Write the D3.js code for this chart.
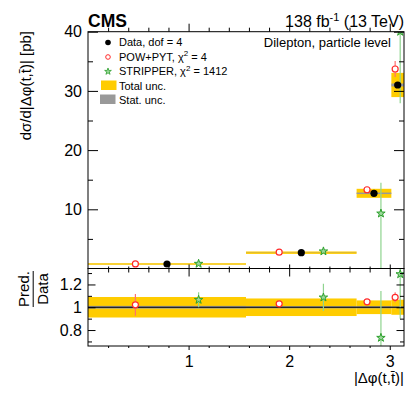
<!DOCTYPE html>
<html><head><meta charset="utf-8">
<script src="https://cdn.jsdelivr.net/npm/d3@7"></script>
<style>
html,body{margin:0;padding:0;background:#fff;}
text{font-family:"Liberation Sans",Arial,sans-serif;fill:#000;}
</style></head>
<body><svg id="c" width="407" height="394"></svg>
<script>
// ---- data ----
const binEdges = [0, 1.5708, 2.6704, 3.0159, 3.1416];
const dataVals = [0.76, 2.67, 12.7, 31.0];
const totUnc = [0.09, 0.077, 0.06, 0.066];      // relative
const statUnc = [0.012, 0.01, 0.01, 0.008];     // relative
const powVals = [0.776, 2.75, 13.3, 33.7];
const powErr = [0.072, 0.055, 0.13, 1.35];
const stripVals = [0.81, 2.9, 9.3, 40.0];
const stripErrUp = [0.05, 0.32, 5.2, 12.0];
const stripErrDn = [0.05, 0.32, 9.3, 12.1];
const yMainTicks = [10, 20, 30, 40];
const yMainMinor = [5, 15, 25, 35];
const yRatioTicks = [0.8, 1, 1.2];
const yRatioMinor = [0.7, 0.9, 1.1, 1.3];
const xTicks = [1, 2, 3];
const legendLabels = ["Data, dof = 4", "POW+PYT, \u03c7", "STRIPPER, \u03c7", "Total unc.", "Stat. unc."];

// ---- layout ----
const L = 88, R = 404, mTop = 31.7, mBot = 268.5, rTop = 268.5, rBot = 346;
const svg = d3.select("#c");
const x = d3.scaleLinear().domain([0, Math.PI]).range([L, R]);
const y = d3.scaleLinear().domain([0, 40]).range([mBot, mTop]);
const yr = d3.scaleLinear().domain([0.66, 1.34]).range([rBot, rTop]);
const YEL = "#ffcc00", GRY = "#999999", RED = "#ff2a2a", GRN = "#2ca02c";

svg.append("clipPath").attr("id","cm").append("rect").attr("x",L).attr("y",mTop).attr("width",R-L).attr("height",mBot-mTop);
svg.append("clipPath").attr("id","cr").append("rect").attr("x",L).attr("y",rTop).attr("width",R-L).attr("height",rBot-rTop);
const gm = svg.append("g").attr("clip-path","url(#cm)");
const gr = svg.append("g").attr("clip-path","url(#cr)");

const bins = dataVals.map((v,i)=>({i, lo:binEdges[i], hi:binEdges[i+1], c:(binEdges[i]+binEdges[i+1])/2, w:binEdges[i+1]-binEdges[i], v}));

function band(g, ys, rel, col, minH, ratio){
  g.selectAll(null).data(bins).enter().append("rect")
    .attr("x", d=>x(d.lo)).attr("width", d=>x(d.hi)-x(d.lo))
    .attr("y", d=>{ const c = ratio?1:d.v; const e = ratio?rel[d.i]:d.v*rel[d.i];
        const h = Math.max(ys(c-e)-ys(c+e), minH); return (ys(c-e)+ys(c+e))/2 - h/2; })
    .attr("height", d=>{ const c = ratio?1:d.v; const e = ratio?rel[d.i]:d.v*rel[d.i];
        return Math.max(ys(c-e)-ys(c+e), minH); })
    .attr("fill", col);
}
// main bands
band(gm, y, totUnc, YEL, 1.6, false);
band(gm, y, statUnc, GRY, 0, false);
// ratio bands
band(gr, yr, totUnc, YEL, 1, true);
band(gr, yr, statUnc, GRY, 1, true);
gr.append("line").attr("x1",L).attr("x2",R).attr("y1",yr(1)).attr("y2",yr(1)).attr("stroke","#000").attr("stroke-width",1);

// error bars + markers
const star = d3.symbol().type(d3.symbolStar).size(22);
function drawPreds(g, ys, ratio){
  g.selectAll(null).data(bins).enter().append("line")
    .attr("x1", d=>x(d.c-0.2*d.w)).attr("x2", d=>x(d.c-0.2*d.w))
    .attr("y1", d=>ys(ratio ? (powVals[d.i]+powErr[d.i])/d.v : powVals[d.i]+powErr[d.i]))
    .attr("y2", d=>ys(ratio ? (powVals[d.i]-powErr[d.i])/d.v : powVals[d.i]-powErr[d.i]))
    .attr("stroke","#ff7070").attr("stroke-width",1.2);
  g.selectAll(null).data(bins).enter().append("line")
    .attr("x1", d=>x(d.c+0.2*d.w)).attr("x2", d=>x(d.c+0.2*d.w))
    .attr("y1", d=>ys(ratio ? (stripVals[d.i]+stripErrUp[d.i])/d.v : stripVals[d.i]+stripErrUp[d.i]))
    .attr("y2", d=>ys(ratio ? (stripVals[d.i]-stripErrDn[d.i])/d.v : stripVals[d.i]-stripErrDn[d.i]))
    .attr("stroke","#8fd48f").attr("stroke-width",1.2);
  g.selectAll(null).data(bins).enter().append("circle")
    .attr("cx", d=>x(d.c-0.2*d.w)).attr("cy", d=>ys(ratio ? powVals[d.i]/d.v : powVals[d.i]))
    .attr("r",3).attr("fill","#fff").attr("stroke",RED).attr("stroke-width",1.2);
  g.selectAll(null).data(bins).enter().append("path")
    .attr("d", star)
    .attr("transform", d=>`translate(${x(d.c+0.2*d.w)},${ys(ratio ? stripVals[d.i]/d.v : stripVals[d.i])})`)
    .attr("fill","#9bd89b").attr("stroke",GRN).attr("stroke-width",1);
}
drawPreds(gm, y, false);
gm.selectAll(null).data(bins).enter().append("circle")
  .attr("cx", d=>x(d.c)).attr("cy", d=>y(d.v)).attr("r",3.6).attr("fill","#000");
drawPreds(gr, yr, true);

// ---- axes ----
function tickAxis(axisFn, scale, vals, size, tx, ty, labels, fs, pad){
  const a = axisFn(scale).tickValues(vals).tickSize(size).tickSizeOuter(0);
  if(labels){ a.tickFormat(labels===true? d3.format("") : labels).tickPadding(pad); } else a.tickFormat("");
  const g = svg.append("g").attr("transform",`translate(${tx},${ty})`).call(a);
  g.select(".domain").remove();
  g.selectAll("line").attr("stroke","#000").attr("stroke-width",1);
  g.selectAll("text").attr("font-size",fs).attr("font-family","Liberation Sans, Arial, sans-serif").attr("fill","#000");
  return g;
}
tickAxis(d3.axisLeft, y, yMainTicks, -10, L, 0, true, 16, 6);
tickAxis(d3.axisLeft, y, yMainMinor, -5, L, 0, false);
tickAxis(d3.axisRight, y, yMainTicks, -10, R, 0, false);
tickAxis(d3.axisRight, y, yMainMinor, -5, R, 0, false);
const xMinor = [0.2,0.4,0.6,0.8,1.2,1.4,1.6,1.8,2.2,2.4,2.6,2.8];
tickAxis(d3.axisTop, x, xTicks, -8, 0, mBot, false);
tickAxis(d3.axisTop, x, xMinor, -4, 0, mBot, false);
tickAxis(d3.axisBottom, x, xTicks, -8, 0, mTop, false);
tickAxis(d3.axisBottom, x, xMinor, -4, 0, mTop, false);
tickAxis(d3.axisLeft, yr, yRatioTicks, -7.5, L, 0, d3.format(""), 16, 6);
tickAxis(d3.axisLeft, yr, yRatioMinor, -4, L, 0, false);
tickAxis(d3.axisRight, yr, yRatioTicks, -7.5, R, 0, false);
tickAxis(d3.axisRight, yr, yRatioMinor, -4, R, 0, false);
tickAxis(d3.axisBottom, x, xTicks, -4, 0, rTop, false);
tickAxis(d3.axisBottom, x, xMinor, -2, 0, rTop, false);
tickAxis(d3.axisTop, x, xTicks, -4, 0, rBot, false);
tickAxis(d3.axisTop, x, xMinor, -2, 0, rBot, false);
const gx = svg.append("g").attr("transform",`translate(0,${rBot})`).call(d3.axisBottom(x).tickValues(xTicks).tickSize(0).tickPadding(6).tickFormat(d3.format("")));
gx.select(".domain").remove();
gx.selectAll("text").attr("font-size",16).attr("dy","0.95em").attr("font-family","Liberation Sans, Arial, sans-serif");

svg.append("rect").attr("x",L).attr("y",mTop).attr("width",R-L).attr("height",mBot-mTop).attr("fill","none").attr("stroke","#000");
svg.append("rect").attr("x",L).attr("y",rTop).attr("width",R-L).attr("height",rBot-rTop).attr("fill","none").attr("stroke","#000");

// ---- texts ----
svg.append("text").attr("x",L).attr("y",26.5).attr("font-size",17.5).attr("font-weight","bold").text("CMS");
const lum = svg.append("text").attr("x",R).attr("y",26.5).attr("font-size",16).attr("text-anchor","end");
lum.append("tspan").text("138 fb");
lum.append("tspan").attr("dy",-6).attr("font-size",11).text("-1");
lum.append("tspan").attr("dy",6).text(" (13 TeV)");
svg.append("text").attr("x",391).attr("y",47).attr("font-size",13).attr("text-anchor","end").text("Dilepton, particle level");

svg.append("text").attr("transform","translate(31,31) rotate(-90)").attr("text-anchor","end").attr("font-size",15)
  .text("d\u03c3/d|\u0394\u03c6(t,t\u0304)| [pb]");
const rt = svg.append("g").attr("transform","translate(0,289) rotate(-90)");
rt.append("text").attr("x",0).attr("y",29).attr("text-anchor","middle").attr("font-size",15).text("Pred.");
rt.append("line").attr("x1",-18).attr("x2",18).attr("y1",33.2).attr("y2",33.2).attr("stroke","#000").attr("stroke-width",1);
rt.append("text").attr("x",0).attr("y",48).attr("text-anchor","middle").attr("font-size",15).text("Data");
svg.append("text").attr("x",R).attr("y",383).attr("text-anchor","end").attr("font-size",15).text("|\u0394\u03c6(t,t\u0304)|");

// ---- legend ----
const lx = 108, tx0 = 119, rows = [46, 60.5, 75, 90, 103.5];
svg.append("circle").attr("cx",lx).attr("cy",rows[0]-3.5).attr("r",2.8).attr("fill","#000");
svg.append("circle").attr("cx",lx).attr("cy",rows[1]-3.5).attr("r",2.3).attr("fill","#fff").attr("stroke",RED).attr("stroke-width",1);
svg.append("path").attr("d",d3.symbol().type(d3.symbolStar).size(14)()).attr("transform",`translate(${lx},${rows[2]-3.5})`).attr("fill","#9bd89b").attr("stroke",GRN).attr("stroke-width",0.8);
svg.append("rect").attr("x",101).attr("y",rows[3]-9.5).attr("width",15.5).attr("height",9.5).attr("fill",YEL);
svg.append("rect").attr("x",100).attr("y",rows[4]-9).attr("width",15.5).attr("height",9.5).attr("fill",GRY);
svg.append("text").attr("x",tx0).attr("y",rows[0]).attr("font-size",11).text(legendLabels[0]);
const t1 = svg.append("text").attr("x",tx0).attr("y",rows[1]).attr("font-size",11);
t1.append("tspan").text(legendLabels[1]); t1.append("tspan").attr("dy",-4.5).attr("font-size",8).text("2"); t1.append("tspan").attr("dy",4.5).text(" = 4");
const t2 = svg.append("text").attr("x",tx0).attr("y",rows[2]).attr("font-size",11);
t2.append("tspan").text(legendLabels[2]); t2.append("tspan").attr("dy",-4.5).attr("font-size",8).text("2"); t2.append("tspan").attr("dy",4.5).text(" = 1412");
svg.append("text").attr("x",tx0).attr("y",rows[3]).attr("font-size",11).text(legendLabels[3]);
svg.append("text").attr("x",tx0).attr("y",rows[4]).attr("font-size",11).text(legendLabels[4]);
</script></body></html>
